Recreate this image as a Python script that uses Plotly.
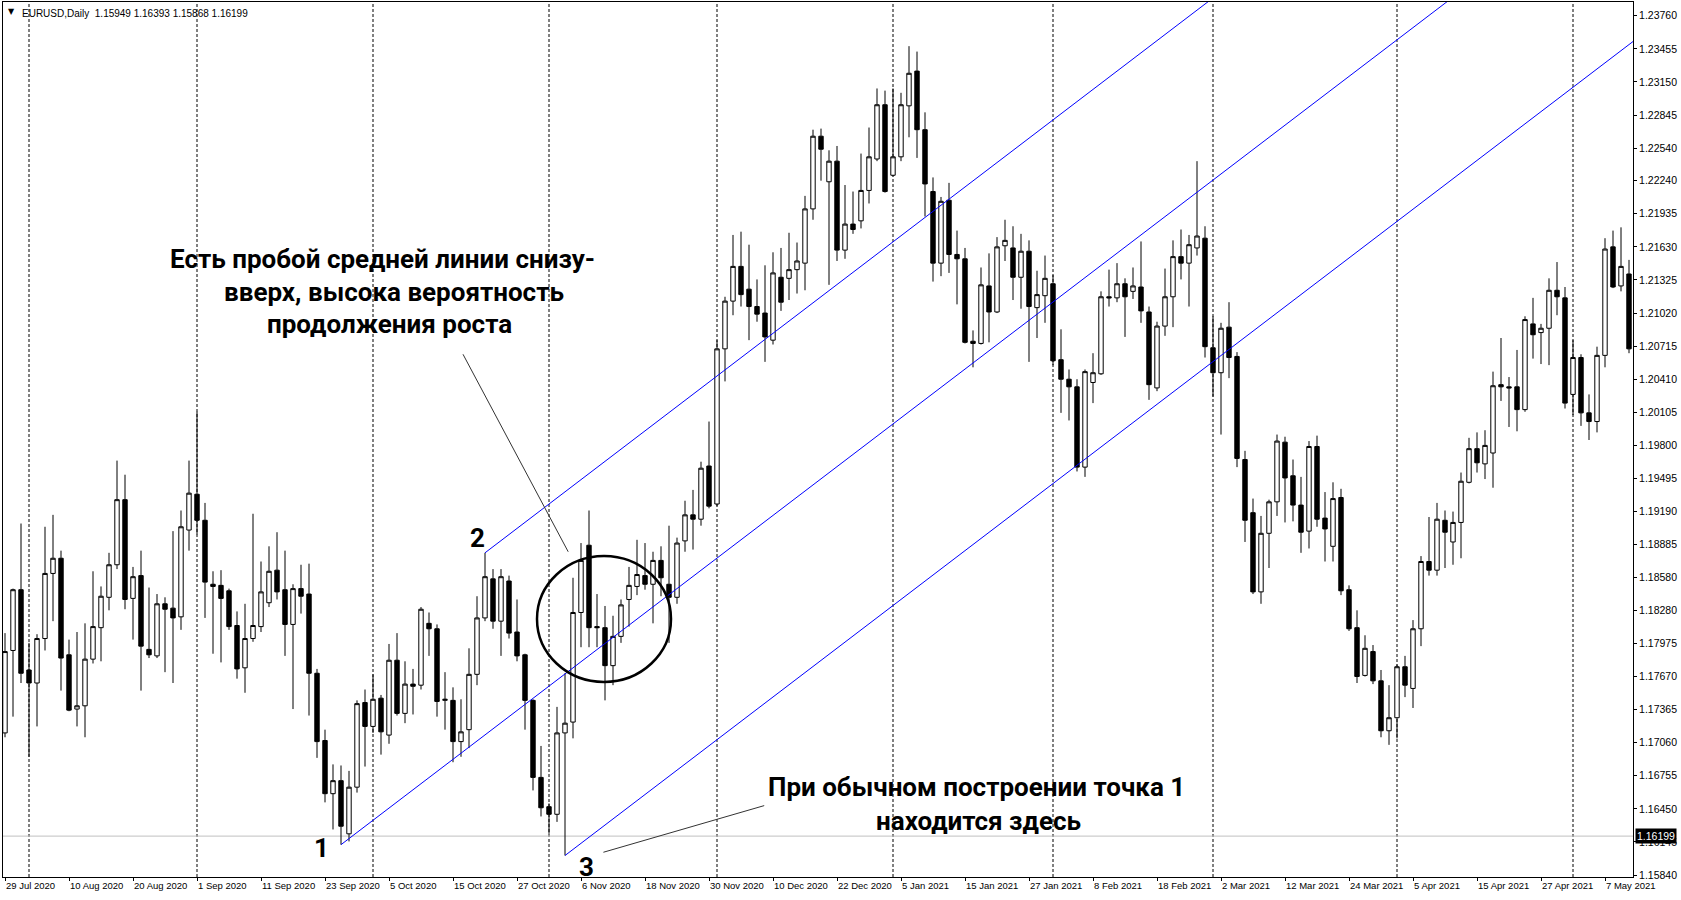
import plotly.graph_objects as go

# ---------------- data (EURUSD, Daily) ----------------
tick_labels = ["29 Jul 2020", "10 Aug 2020", "20 Aug 2020", "1 Sep 2020", "11 Sep 2020",
               "23 Sep 2020", "5 Oct 2020", "15 Oct 2020", "27 Oct 2020", "6 Nov 2020",
               "18 Nov 2020", "30 Nov 2020", "10 Dec 2020", "22 Dec 2020", "5 Jan 2021",
               "15 Jan 2021", "27 Jan 2021", "8 Feb 2021", "18 Feb 2021", "2 Mar 2021",
               "12 Mar 2021", "24 Mar 2021", "5 Apr 2021", "15 Apr 2021", "27 Apr 2021",
               "7 May 2021"]
tick_bars = [0, 8, 16, 24, 32, 40, 48, 56, 64, 72, 80, 88, 96, 104, 112, 120, 128, 136,
             144, 152, 160, 168, 176, 184, 192, 200]
price_ticks = [1.23760, 1.23455, 1.23150, 1.22845, 1.22540, 1.22240, 1.21935, 1.21630,
               1.21325, 1.21020, 1.20715, 1.20410, 1.20105, 1.19800, 1.19495, 1.19190,
               1.18885, 1.18580, 1.18280, 1.17975, 1.17670, 1.17365, 1.17060, 1.16755,
               1.16450, 1.16145, 1.15840]
separator_bars = [3, 24, 46, 68, 89, 111, 131, 151, 174, 196]   # first bar of each month

opens = [1.1715, 1.1791, 1.1847, 1.1773, 1.1761, 1.1802, 1.1862, 1.1876, 1.1787, 1.1737,
         1.1740, 1.1783, 1.1812, 1.1840, 1.1870, 1.1930, 1.1839, 1.1860, 1.1792, 1.1786,
         1.1834, 1.1830, 1.1822, 1.1902, 1.1935, 1.1911, 1.1852, 1.1851, 1.1846, 1.1814,
         1.1775, 1.1802, 1.1813, 1.1835, 1.1865, 1.1847, 1.1815, 1.1848, 1.1843, 1.1770,
         1.1708, 1.1659, 1.1671, 1.1622, 1.1665, 1.1743, 1.1721, 1.1747, 1.1713, 1.1782,
         1.1733, 1.1760, 1.1759, 1.1816, 1.1811, 1.1745, 1.1745, 1.1707, 1.1718, 1.1769,
         1.1821, 1.1857, 1.1818, 1.1855, 1.1808, 1.1787, 1.1745, 1.1674, 1.1647, 1.1640,
         1.1715, 1.1725, 1.1826, 1.1888, 1.1813, 1.1812, 1.1777, 1.1804, 1.1838, 1.1850,
         1.1860, 1.1852, 1.1874, 1.1852, 1.1840, 1.1892, 1.1916, 1.1912, 1.1961, 1.1926,
         1.2069, 1.2113, 1.2145, 1.2124, 1.2108, 1.2102, 1.2077, 1.2135, 1.2134, 1.2142,
         1.2148, 1.2198, 1.2265, 1.2223, 1.2242, 1.2160, 1.2184, 1.2187, 1.2215, 1.2244,
         1.2294, 1.2229, 1.2246, 1.2293, 1.2325, 1.2271, 1.2214, 1.2148, 1.2206, 1.2156,
         1.2152, 1.2076, 1.2074, 1.2127, 1.2103, 1.2164, 1.2162, 1.2135, 1.2159, 1.2107,
         1.2118, 1.2129, 1.2059, 1.2041, 1.2034, 1.1960, 1.2038, 1.2046, 1.2117, 1.2116,
         1.2129, 1.2122, 1.2126, 1.2103, 1.2033, 1.2090, 1.2117, 1.2154, 1.2148, 1.2162,
         1.2171, 1.2070, 1.2047, 1.2089, 1.2062, 1.1967, 1.1918, 1.1845, 1.1899, 1.1928,
         1.1983, 1.1952, 1.1925, 1.1901, 1.1979, 1.1913, 1.1887, 1.1932, 1.1847, 1.1812,
         1.1768, 1.1790, 1.1763, 1.1717, 1.1729, 1.1776, 1.1756, 1.1811, 1.1873, 1.1865,
         1.1911, 1.1891, 1.1909, 1.1946, 1.1977, 1.1963, 1.1973, 1.2036, 1.2034, 1.2034,
         1.2013, 1.2092, 1.2084, 1.2088, 1.2123, 1.2116, 1.2027, 1.2061, 1.2010, 1.2002,
         1.2063, 1.2163, 1.2127, 1.2138]
highs = [1.1807, 1.1848, 1.1908, 1.1798, 1.1806, 1.1905, 1.1916, 1.1883, 1.1801, 1.1808,
         1.1816, 1.1864, 1.1850, 1.1881, 1.1966, 1.1953, 1.1868, 1.1883, 1.1849, 1.1843,
         1.1840, 1.1901, 1.1920, 1.1966, 1.2011, 1.1927, 1.1864, 1.1865, 1.1848, 1.1827,
         1.1834, 1.1917, 1.1873, 1.1887, 1.1900, 1.1883, 1.1852, 1.1870, 1.1871, 1.1774,
         1.1718, 1.1686, 1.1685, 1.1680, 1.1745, 1.1755, 1.1769, 1.1750, 1.1797, 1.1807,
         1.1781, 1.1774, 1.1831, 1.1826, 1.1815, 1.1771, 1.1757, 1.1746, 1.1793, 1.1841,
         1.1881, 1.1866, 1.1866, 1.1860, 1.1838, 1.1788, 1.1746, 1.1703, 1.1650, 1.1739,
         1.1770, 1.1858, 1.1890, 1.1920, 1.1843, 1.1832, 1.1823, 1.1838, 1.1868, 1.1893,
         1.1890, 1.1882, 1.1887, 1.1906, 1.1895, 1.1929, 1.1939, 1.1965, 1.2002, 1.2077,
         1.2117, 1.2174, 1.2177, 1.2165, 1.2133, 1.2146, 1.2158, 1.2162, 1.2176, 1.2167,
         1.2210, 1.2271, 1.2272, 1.2252, 1.2256, 1.2220, 1.2214, 1.2249, 1.2273, 1.2309,
         1.2307, 1.2309, 1.2305, 1.2348, 1.2343, 1.2287, 1.2227, 1.2209, 1.2222, 1.2178,
         1.2162, 1.2086, 1.2144, 1.2157, 1.2172, 1.2188, 1.2182, 1.2175, 1.2169, 1.2141,
         1.2155, 1.2137, 1.2087, 1.2050, 1.2041, 1.2050, 1.2065, 1.2122, 1.2142, 1.2148,
         1.2134, 1.2144, 1.2168, 1.2108, 1.2094, 1.2143, 1.2169, 1.2179, 1.2174, 1.2242,
         1.2182, 1.2099, 1.2093, 1.2112, 1.2066, 1.1975, 1.1931, 1.1915, 1.1930, 1.1990,
         1.1988, 1.1967, 1.1951, 1.1984, 1.1989, 1.1937, 1.1946, 1.1940, 1.1851, 1.1828,
         1.1805, 1.1796, 1.1773, 1.1759, 1.1778, 1.1786, 1.1819, 1.1878, 1.1914, 1.1927,
         1.1920, 1.1919, 1.1955, 1.1987, 1.1992, 1.1994, 1.2048, 1.2079, 1.2043, 1.2068,
         1.2099, 1.2116, 1.2092, 1.2134, 1.2149, 1.2126, 1.2077, 1.2064, 1.2027, 1.2071,
         1.2171, 1.2178, 1.2181, 1.2151]
lows = [1.1711, 1.1730, 1.1761, 1.1693, 1.1721, 1.1791, 1.1818, 1.1754, 1.1735, 1.1721,
        1.1711, 1.1779, 1.1781, 1.1828, 1.1866, 1.1829, 1.1801, 1.1754, 1.1784, 1.1784,
        1.1771, 1.1761, 1.1810, 1.1883, 1.1898, 1.1821, 1.1788, 1.1780, 1.1810, 1.1765,
        1.1752, 1.1799, 1.1808, 1.1831, 1.1838, 1.1786, 1.1737, 1.1825, 1.1731, 1.1692,
        1.1651, 1.1626, 1.1612, 1.1615, 1.1660, 1.1684, 1.1715, 1.1695, 1.1705, 1.1731,
        1.1724, 1.1732, 1.1755, 1.1786, 1.1730, 1.1718, 1.1688, 1.1693, 1.1701, 1.1759,
        1.1818, 1.1811, 1.1786, 1.1802, 1.1781, 1.1718, 1.1662, 1.1638, 1.1622, 1.1633,
        1.1602, 1.1710, 1.1794, 1.1794, 1.1794, 1.1745, 1.1759, 1.1798, 1.1813, 1.1842,
        1.1847, 1.1816, 1.1841, 1.1798, 1.1834, 1.1882, 1.1884, 1.1906, 1.1922, 1.1924,
        1.2039, 1.2100, 1.2108, 1.2077, 1.2094, 1.2057, 1.2073, 1.2104, 1.2114, 1.2120,
        1.2123, 1.2188, 1.2224, 1.2128, 1.2150, 1.2152, 1.2175, 1.2180, 1.2203, 1.2242,
        1.2213, 1.2228, 1.2242, 1.2264, 1.2245, 1.2191, 1.2131, 1.2136, 1.2139, 1.2110,
        1.2074, 1.2052, 1.2073, 1.2075, 1.2102, 1.2150, 1.2114, 1.2106, 1.2057, 1.2079,
        1.2093, 1.2054, 1.2010, 1.2003, 1.1956, 1.1951, 1.2019, 1.2045, 1.2108, 1.2112,
        1.2080, 1.2115, 1.2093, 1.2022, 1.2030, 1.2081, 1.2089, 1.2133, 1.2108, 1.2155,
        1.2061, 1.2025, 1.1990, 1.2042, 1.1960, 1.1891, 1.1843, 1.1834, 1.1867, 1.1915,
        1.1909, 1.1910, 1.1881, 1.1885, 1.1905, 1.1873, 1.1873, 1.1842, 1.1809, 1.1761,
        1.1767, 1.1760, 1.1711, 1.1704, 1.1710, 1.1748, 1.1738, 1.1795, 1.1860, 1.1860,
        1.1867, 1.1870, 1.1876, 1.1945, 1.1955, 1.1949, 1.1941, 1.2021, 1.1997, 1.1993,
        1.2011, 1.2060, 1.2055, 1.2054, 1.2100, 1.2014, 1.2008, 1.1998, 1.1985, 1.1992,
        1.2052, 1.2125, 1.2122, 1.2065]
closes = [1.1790, 1.1847, 1.1770, 1.1761, 1.1802, 1.1862, 1.1876, 1.1784, 1.1736, 1.1740,
          1.1783, 1.1813, 1.1841, 1.1870, 1.1930, 1.1838, 1.1859, 1.1795, 1.1787, 1.1834,
          1.1829, 1.1821, 1.1905, 1.1936, 1.1911, 1.1854, 1.1850, 1.1839, 1.1813, 1.1774,
          1.1802, 1.1814, 1.1845, 1.1864, 1.1845, 1.1815, 1.1848, 1.1841, 1.1770, 1.1707,
          1.1659, 1.1671, 1.1629, 1.1665, 1.1742, 1.1721, 1.1746, 1.1716, 1.1782, 1.1733,
          1.1760, 1.1758, 1.1829, 1.1811, 1.1744, 1.1746, 1.1707, 1.1716, 1.1769, 1.1821,
          1.1859, 1.1818, 1.1859, 1.1807, 1.1786, 1.1745, 1.1674, 1.1646, 1.1640, 1.1715,
          1.1724, 1.1826, 1.1874, 1.1812, 1.1812, 1.1777, 1.1804, 1.1833, 1.1851, 1.1861,
          1.1852, 1.1874, 1.1858, 1.1840, 1.1890, 1.1916, 1.1912, 1.1959, 1.1924, 1.2069,
          1.2113, 1.2145, 1.2119, 1.2108, 1.2101, 1.2080, 1.2139, 1.2112, 1.2142, 1.2150,
          1.2198, 1.2265, 1.2253, 1.2242, 1.2160, 1.2184, 1.2179, 1.2215, 1.2246, 1.2294,
          1.2214, 1.2246, 1.2294, 1.2323, 1.2271, 1.2221, 1.2148, 1.2205, 1.2156, 1.2152,
          1.2075, 1.2074, 1.2128, 1.2103, 1.2163, 1.2169, 1.2135, 1.2159, 1.2108, 1.2119,
          1.2134, 1.2058, 1.2041, 1.2034, 1.1960, 1.2048, 1.2047, 1.2117, 1.2116, 1.2129,
          1.2117, 1.2127, 1.2104, 1.2036, 1.2090, 1.2117, 1.2154, 1.2148, 1.2165, 1.2173,
          1.2071, 1.2047, 1.2088, 1.2061, 1.1968, 1.1911, 1.1845, 1.1899, 1.1928, 1.1984,
          1.1950, 1.1925, 1.1900, 1.1979, 1.1912, 1.1903, 1.1931, 1.1846, 1.1811, 1.1767,
          1.1793, 1.1763, 1.1717, 1.1729, 1.1776, 1.1759, 1.1811, 1.1873, 1.1865, 1.1912,
          1.1900, 1.1909, 1.1947, 1.1977, 1.1964, 1.1980, 1.2035, 1.2034, 1.2033, 1.2013,
          1.2096, 1.2082, 1.2088, 1.2123, 1.2117, 1.2019, 1.2061, 1.2010, 1.2002, 1.2063,
          1.2161, 1.2126, 1.2145, 1.2069]
bars = list(range(len(opens)))

bid_price = 1.16199
header_text = "EURUSD,Daily  1.15949 1.16393 1.15868 1.16199"

# channel: anchor points 1, 2, 3 and common slope (price per bar)
channel_bars = [42, 60, 70]
channel_prices = [1.1612, 1.1881, 1.1602]
channel_slope = 0.000562
channel_end_bar = 206

# annotation texts
note_top = ["Есть пробой средней линии снизу-", "вверх, высока вероятность", "продолжения роста"]
note_bottom = ["При обычном построении точка 1", "находится здесь"]
point_labels = ["1", "2", "3"]

# ---------------- figure ----------------
fig = go.Figure()

fig.add_trace(go.Candlestick(
    x=bars, open=opens, high=highs, low=lows, close=closes,
    increasing=dict(line=dict(color="black", width=1), fillcolor="white"),
    decreasing=dict(line=dict(color="black", width=1), fillcolor="black"),
    whiskerwidth=0, showlegend=False, hoverinfo="skip",
))

for b, p in zip(channel_bars, channel_prices):
    fig.add_trace(go.Scatter(
        x=[b, channel_end_bar], y=[p, p + channel_slope * (channel_end_bar - b)],
        mode="lines", line=dict(color="#0000ff", width=1), showlegend=False, hoverinfo="skip",
    ))

shapes = []
for b in separator_bars:
    shapes.append(dict(type="line", xref="x", yref="paper", x0=b, x1=b, y0=0, y1=1,
                       line=dict(color="black", width=1, dash="3px,2px"), layer="below"))
shapes.append(dict(type="line", xref="paper", yref="y", x0=0, x1=1, y0=bid_price, y1=bid_price,
                   line=dict(color="#c0c0c0", width=1), layer="below"))
# circle around the breakout
shapes.append(dict(type="circle", xref="x", yref="y", x0=66.5, x1=83.25, y0=1.1762, y1=1.1878,
                   line=dict(color="black", width=2.5)))
# pointer lines
shapes.append(dict(type="line", xref="x", yref="y", x0=57.25, y0=1.2064, x1=70.4, y1=1.1882,
                   line=dict(color="#333333", width=1)))
shapes.append(dict(type="line", xref="x", yref="y", x0=74.8, y0=1.1605, x1=94.9, y1=1.1648,
                   line=dict(color="#333333", width=1)))

annots = []
txt_font = dict(family="Roboto", size=26, color="black", weight=700)
for t, x, y in zip(note_top, [0.2331, 0.2399, 0.2374], [0.7063, 0.6690, 0.6323]):
    annots.append(dict(text=t, xref="paper", yref="paper", x=x, y=y, xanchor="center",
                       yanchor="middle", showarrow=False, font=txt_font))
for t, x, y in zip(note_bottom, [0.5975, 0.5982], [0.1029, 0.0640]):
    annots.append(dict(text=t, xref="paper", yref="paper", x=x, y=y, xanchor="center",
                       yanchor="middle", showarrow=False, font=txt_font))
for t, x, y in zip(point_labels, [0.1957, 0.2908, 0.3577], [0.0331, 0.3874, 0.0114]):
    annots.append(dict(text=t, xref="paper", yref="paper", x=x, y=y, xanchor="center",
                       yanchor="middle", showarrow=False,
                       font=dict(family="Roboto", size=26, color="black", weight=700)))
annots.append(dict(text="▼", xref="paper", yref="paper", x=0.0055, y=0.9886, xanchor="center",
                   yanchor="middle", showarrow=False,
                   font=dict(family="DejaVu Sans", size=8, color="black")))
annots.append(dict(text=header_text, xref="paper", yref="paper", x=0.0104, y=0.9874,
                   xanchor="left", yanchor="middle", showarrow=False,
                   font=dict(family="Liberation Sans", size=10, color="black")))
annots.append(dict(text=f"{bid_price:.5f}", xref="paper", yref="y", x=1, y=bid_price,
                   xanchor="left", yanchor="middle", xshift=2, showarrow=False,
                   bgcolor="black", borderpad=1,
                   font=dict(family="Liberation Sans", size=10.5, color="white")))

fig.update_layout(
    width=1681, height=900,
    margin=dict(l=3, r=48, t=2, b=23),
    paper_bgcolor="white", plot_bgcolor="white",
    showlegend=False,
    boxgap=0.45, boxgroupgap=0,
    shapes=shapes, annotations=annots,
    xaxis=dict(range=[-0.25, 203.5], tickvals=tick_bars, ticktext=tick_labels,
               ticks="outside", ticklen=3, tickcolor="black", showgrid=False, zeroline=False,
               showline=True, mirror=True, linecolor="black", linewidth=1,
               rangeslider=dict(visible=False), ticklabelposition="outside right",
               tickfont=dict(family="Liberation Sans", size=9.5, color="black")),
    yaxis=dict(side="right", range=[1.15822, 1.23887], tickvals=price_ticks,
               ticktext=[f"{v:.5f}" for v in price_ticks],
               ticks="outside", ticklen=3, tickcolor="black", showgrid=False, zeroline=False,
               showline=True, mirror=True, linecolor="black", linewidth=1,
               tickfont=dict(family="Liberation Sans", size=10.5, color="black")),
)

fig.write_html("out.html", config={"displayModeBar": False},
               post_script="document.body.style.margin='0';")
